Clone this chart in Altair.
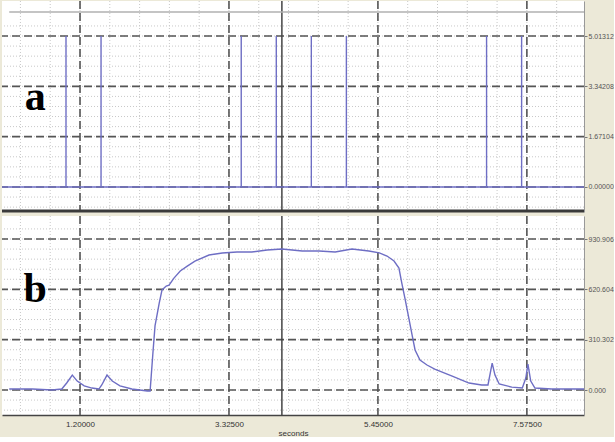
import altair as alt
import pandas as pd

# ---------------- data ----------------
spike_times = [1.0, 1.5, 3.5, 4.0, 4.5, 5.0, 7.0, 7.5]
spike_top = 5.01312

curve_t = [0.19, 0.52, 0.80, 0.94, 1.01, 1.09, 1.16, 1.26, 1.37, 1.47, 1.51, 1.585, 1.66, 1.77, 1.94,
           2.16, 2.20, 2.24, 2.27, 2.33, 2.37, 2.43, 2.47, 2.54, 2.63, 2.73, 2.84, 3.04, 3.23, 3.44,
           3.65, 3.87, 4.08, 4.37, 4.61, 4.84, 5.08, 5.32, 5.47, 5.58, 5.68, 5.75, 5.79, 5.84, 5.89,
           5.94, 5.98, 6.05, 6.15, 6.26, 6.51, 6.75, 6.93, 7.02, 7.08, 7.12, 7.18, 7.36, 7.51, 7.56,
           7.59, 7.63, 7.69, 7.93, 8.39]
curve_v = [6, 6, 0, 6, 43, 92, 55, 25, 12, 6, 31, 92, 55, 25, 6,
           -6, -6, 228, 395, 536, 617, 641, 647, 690, 734, 764, 795, 832, 845, 851,
           851, 863, 869, 857, 857, 851, 869, 857, 845, 826, 795, 752, 660, 555, 444,
           333, 247, 185, 154, 129, 86, 43, 31, 31, 166, 92, 37, 18, 12, 74,
           160, 55, 12, 6, 6]

x_ticks = [1.2, 3.325, 5.45, 7.575]
top_ticks = [0.0, 1.67104, 3.34208, 5.01312]
bot_ticks = [0.0, 310.302, 620.604, 930.906]
cursor_t = 4.08

X_DOM = [0.087, 8.39]
TOP_DOM = [-0.8305, 6.176]
BOT_DOM = [-154.1, 1072.7]

W = 582
H_TOP = 211
H_BOT = 199

LINE_COL = "#6E6EC4"
MAJOR_COL = "#555555"
MINOR_COL = "#C8C8C8"

# minor grid positions (every fifth of a major step)
x_step = (x_ticks[1] - x_ticks[0]) / 5
x_minor = [x_ticks[0] + k * x_step for k in range(-3, 20)]
x_minor = [v for v in x_minor if X_DOM[0] < v < X_DOM[1]]
t_step = top_ticks[1] / 5
top_minor = [k * t_step for k in range(-2, 17)]
b_step = bot_ticks[1] / 5
bot_minor = [k * b_step for k in range(-2, 17)]

xs = alt.Scale(domain=X_DOM, nice=False, zero=False)
ys_top = alt.Scale(domain=TOP_DOM, nice=False, zero=False)
ys_bot = alt.Scale(domain=BOT_DOM, nice=False, zero=False)


def panel(y_scale, y_ticks, y_minor, fmt, xaxis):
    y_axis = alt.Axis(orient="right", values=y_ticks, format=fmt, grid=False,
                      labelFontSize=7, labelColor="#555555", labelFont="Liberation Sans",
                      tickSize=3, tickColor="#777777", domainColor="#999999",
                      labelPadding=1, labelLimit=80, title=None)
    base_y = alt.Y("v:Q", scale=y_scale, axis=y_axis)
    minor_h = alt.Chart(pd.DataFrame({"v": y_minor})).mark_rule(
        color=MINOR_COL, strokeDash=[1, 2], strokeWidth=1).encode(y=base_y)
    minor_v = alt.Chart(pd.DataFrame({"t": x_minor})).mark_rule(
        color=MINOR_COL, strokeDash=[1, 2], strokeWidth=1).encode(
        x=alt.X("t:Q", scale=xs, axis=xaxis))
    major_h = alt.Chart(pd.DataFrame({"v": y_ticks})).mark_rule(
        color=MAJOR_COL, strokeDash=[8, 4], strokeWidth=1.6).encode(y=base_y)
    major_v = alt.Chart(pd.DataFrame({"t": x_ticks})).mark_rule(
        color=MAJOR_COL, strokeDash=[8, 4], strokeWidth=1.6).encode(
        x=alt.X("t:Q", scale=xs))
    cursor = alt.Chart(pd.DataFrame({"t": [cursor_t]})).mark_rule(
        color="#444444", strokeWidth=1.5).encode(x=alt.X("t:Q", scale=xs))
    return [minor_h, minor_v, major_h, major_v, cursor]


# ---------------- top panel ----------------
top_layers = panel(ys_top, top_ticks, top_minor, ".5f", None)
top_line = alt.Chart(pd.DataFrame({"t0": [0.19], "t1": [X_DOM[1]], "v": [5.81]})).mark_rule(
    color="#B0B0B0", strokeWidth=1.5).encode(
    x=alt.X("t0:Q", scale=xs), x2="t1:Q", y=alt.Y("v:Q", scale=ys_top))
baseline = alt.Chart(pd.DataFrame({"v": [0.0]})).mark_rule(
    color=LINE_COL, strokeWidth=1.6).encode(y=alt.Y("v:Q", scale=ys_top))
spikes = alt.Chart(pd.DataFrame({"t": spike_times, "y0": [0.0] * len(spike_times),
                                 "y1": [spike_top] * len(spike_times)})).mark_rule(
    color=LINE_COL, strokeWidth=1.4).encode(
    x=alt.X("t:Q", scale=xs), y=alt.Y("y0:Q", scale=ys_top), y2="y1:Q")
label_a = alt.Chart(pd.DataFrame({"t": [0.56], "v": [3.0], "s": ["a"]})).mark_text(
    font="Liberation Serif", fontWeight="bold", fontSize=42, color="black",
    baseline="middle", align="center").encode(
    x=alt.X("t:Q", scale=xs), y=alt.Y("v:Q", scale=ys_top), text="s:N")
sep = alt.Chart(pd.DataFrame({"v": [TOP_DOM[0] + 0.03]})).mark_rule(
    color="#3A3A3A", strokeWidth=3, clip=False).encode(y=alt.Y("v:Q", scale=ys_top))
top = alt.layer(*top_layers, top_line, baseline, spikes, label_a, sep).properties(
    width=W, height=H_TOP)

# ---------------- bottom panel ----------------
x_axis = alt.Axis(values=x_ticks, format=".5f", grid=False, labelFontSize=8,
                  labelColor="#333333", labelFont="Liberation Sans", tickSize=0,
                  labelPadding=5, domainColor="#444444", domainWidth=1.5,
                  title="seconds", titleFontSize=8, titleFont="Liberation Sans",
                  titleFontWeight="normal", titleColor="#333333", titlePadding=1)
bot_layers = panel(ys_bot, bot_ticks, bot_minor, ".3f", x_axis)
curve = alt.Chart(pd.DataFrame({"t": curve_t, "v": curve_v})).mark_line(
    color=LINE_COL, strokeWidth=1.4).encode(
    x=alt.X("t:Q", scale=xs), y=alt.Y("v:Q", scale=ys_bot))
label_b = alt.Chart(pd.DataFrame({"t": [0.56], "v": [625.0], "s": ["b"]})).mark_text(
    font="Liberation Serif", fontWeight="bold", fontSize=42, color="black",
    baseline="middle", align="center").encode(
    x=alt.X("t:Q", scale=xs), y=alt.Y("v:Q", scale=ys_bot), text="s:N")
bot = alt.layer(*bot_layers, curve, label_b).properties(width=W, height=H_BOT)

chart = alt.vconcat(top, bot, spacing=2).resolve_scale(y="independent").properties(
    padding=0, background="#ECE9D8").configure_view(fill="white", stroke=None)

chart.save("out.html", embed_options={"renderer": "svg", "actions": False})
